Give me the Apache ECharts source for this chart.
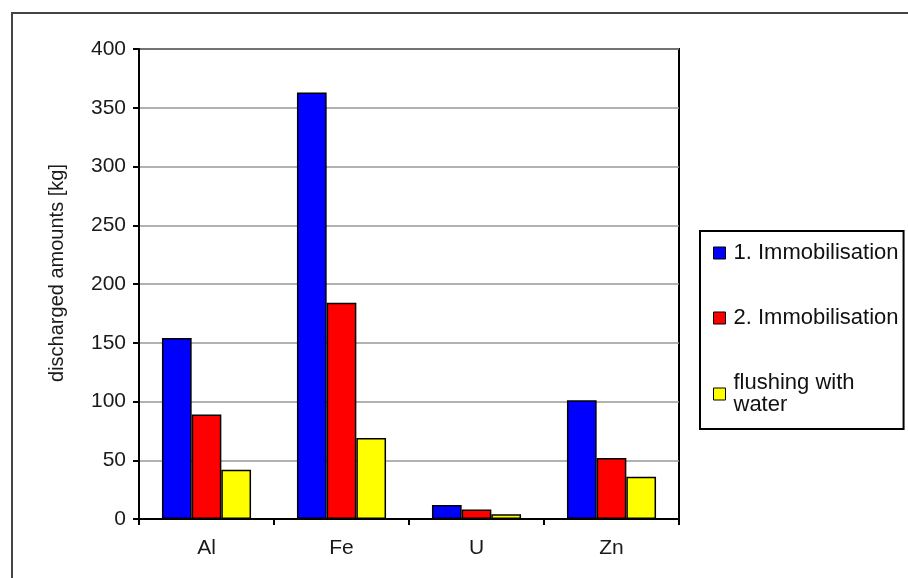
<!DOCTYPE html>
<html>
<head>
<meta charset="utf-8">
<script src="https://cdn.jsdelivr.net/npm/echarts@6/dist/echarts.min.js"></script>
<style>
html,body{margin:0;padding:0;background:#fff;}
#chart{width:908px;height:578px;}
</style>
</head>
<body>
<div id="chart"></div>
<script>
const categories = ['Al', 'Fe', 'U', 'Zn'];
const seriesNames = ['1. Immobilisation', '2. Immobilisation', 'flushing with water'];
const immobilisation1 = [154, 363, 12, 101];
const immobilisation2 = [89, 184, 8, 52];
const flushingWater = [42, 69, 4, 36];
const yTicks = { min: 0, max: 400, interval: 50 };
const colors = ['#0000ff', '#ff0000', '#ffff00'];

const FONT = '"Liberation Sans", Arial, sans-serif';
const chart = echarts.init(document.getElementById('chart'), null, { renderer: 'canvas' });
const values = [immobilisation1, immobilisation2, flushingWater];

chart.setOption({
  animation: false,
  backgroundColor: '#fff',
  graphic: [{
    type: 'rect',
    shape: { x: 12, y: 13, width: 1000, height: 700 },
    style: { fill: 'none', stroke: '#444', lineWidth: 2 },
    silent: true,
    z: -10
  }],
  grid: {
    left: 139, right: 229, top: 49, bottom: 59,
    show: true, borderColor: '#000', borderWidth: 2, backgroundColor: 'transparent'
  },
  legend: {
    orient: 'vertical',
    left: 700, top: 231,
    padding: [11, 5, 13, 13],
    itemGap: 43,
    itemWidth: 12, itemHeight: 12,
    icon: 'rect',
    borderColor: '#000', borderWidth: 2,
    backgroundColor: '#fff',
    itemStyle: { borderColor: '#000', borderWidth: 1 },
    textStyle: { fontFamily: FONT, fontSize: 22, color: '#111', lineHeight: 22, padding: [0, 0, 0, 3] },
    formatter: function (name) { return name === 'flushing with water' ? 'flushing with\nwater' : name; },
    data: seriesNames
  },
  xAxis: {
    type: 'category',
    data: categories,
    axisLine: { show: true, lineStyle: { color: '#000', width: 2 } },
    axisTick: { show: true, length: 6, lineStyle: { color: '#000', width: 2 } },
    axisLabel: { fontFamily: FONT, fontSize: 21, color: '#1a1a1a', margin: 19 }
  },
  yAxis: {
    type: 'value',
    min: yTicks.min, max: yTicks.max, interval: yTicks.interval,
    name: 'discharged amounts [kg]',
    nameLocation: 'middle',
    nameGap: 72,
    nameRotate: 90,
    nameTextStyle: { fontFamily: FONT, fontSize: 20, color: '#1a1a1a', padding: [0, 0, 0, 22] },
    axisLine: { show: true, lineStyle: { color: '#000', width: 2 } },
    axisTick: { show: true, length: 6, lineStyle: { color: '#000', width: 2 } },
    splitLine: { show: true, lineStyle: { color: '#999', width: 1.5 } },
    axisLabel: { fontFamily: FONT, fontSize: 21, color: '#1a1a1a', margin: 13 }
  },
  series: seriesNames.map((name, i) => ({
    name: name,
    type: 'bar',
    data: values[i],
    barGap: '0%',
    barCategoryGap: '34%',
    itemStyle: { color: colors[i], borderColor: '#000', borderWidth: 1.5 }
  }))
});
</script>
</body>
</html>
